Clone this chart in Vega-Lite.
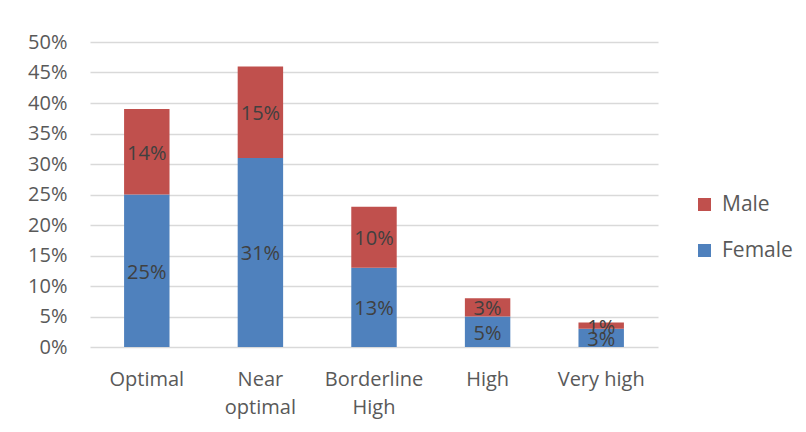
{
  "$schema": "https://vega.github.io/schema/vega-lite/v6.json",
  "width": 568,
  "height": 305,
  "autosize": {"type": "none"},
  "padding": {"left": 90, "top": 42, "right": 148, "bottom": 85},
  "background": "white",
  "config": {
    "view": {"stroke": null},
    "font": "Open Sans",
    "axis": {"labelFont": "Open Sans", "labelColor": "#595959", "labelFontSize": 20},
    "legend": {"labelFont": "Open Sans"}
  },
  "data": {
    "values": [
      {"category": "Optimal", "sex": "Female", "share": 0.25},
      {"category": "Optimal", "sex": "Male", "share": 0.14},
      {"category": "Near optimal", "sex": "Female", "share": 0.31},
      {"category": "Near optimal", "sex": "Male", "share": 0.15},
      {"category": "Borderline High", "sex": "Female", "share": 0.13},
      {"category": "Borderline High", "sex": "Male", "share": 0.10},
      {"category": "High", "sex": "Female", "share": 0.05},
      {"category": "High", "sex": "Male", "share": 0.03},
      {"category": "Very high", "sex": "Female", "share": 0.03},
      {"category": "Very high", "sex": "Male", "share": 0.01}
    ]
  },
  "encoding": {
    "x": {
      "field": "category",
      "type": "nominal",
      "sort": null,
      "title": null,
      "scale": {"paddingInner": 0.6, "paddingOuter": 0.3},
      "axis": {
        "labelAngle": 0,
        "ticks": false,
        "domain": false,
        "labelPadding": 22,
        "labelLineHeight": 28,
        "labelBaseline": "top",
        "labelExpr": "datum.label == 'Near optimal' ? ['Near', 'optimal'] : datum.label == 'Borderline High' ? ['Borderline', 'High'] : datum.label"
      }
    },
    "y": {
      "field": "share",
      "type": "quantitative",
      "stack": "zero",
      "title": null,
      "scale": {"domain": [0, 0.5], "nice": false},
      "axis": {
        "format": ".0%",
        "values": [0, 0.05, 0.1, 0.15, 0.2, 0.25, 0.3, 0.35, 0.4, 0.45, 0.5],
        "ticks": false,
        "domain": false,
        "labelPadding": 23,
        "gridColor": "#D9D9D9",
        "gridWidth": 1.5
      }
    },
    "order": {"field": "sex", "sort": "ascending"}
  },
  "layer": [
    {
      "mark": {"type": "bar"},
      "encoding": {
        "color": {
          "field": "sex",
          "type": "nominal",
          "title": null,
          "scale": {"domain": ["Male", "Female"], "range": ["#C0504D", "#4F81BD"]},
          "legend": {
            "orient": "none",
            "legendX": 604,
            "legendY": 152,
            "symbolType": "square",
            "symbolSize": 169,
            "symbolStrokeWidth": 0,
            "labelFontSize": 21,
            "labelColor": "#595959",
            "labelOffset": 7,
            "rowPadding": 24
          }
        }
      }
    },
    {
      "mark": {"type": "text", "fontSize": 20, "color": "#404040", "baseline": "middle", "dy": 2, "font": "Open Sans"},
      "encoding": {
        "y": {"field": "share", "type": "quantitative", "stack": "zero", "bandPosition": 0.5},
        "text": {"field": "share", "type": "quantitative", "format": ".0%"}
      }
    }
  ]
}
